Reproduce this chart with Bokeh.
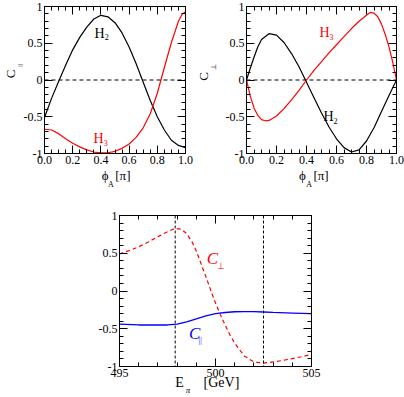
from bokeh.plotting import figure
from bokeh.models import Label, LinearAxis, FixedTicker, Span, Range1d
from bokeh.layouts import column, row
from bokeh.embed import file_html
from bokeh.resources import INLINE

# ---------------- data ----------------
# panel 1: C_parallel vs phi_A [pi]
phi_1 = [0.0, 0.05, 0.1, 0.15, 0.2, 0.25, 0.3, 0.35, 0.4, 0.45, 0.5,
         0.55, 0.6, 0.65, 0.7, 0.75, 0.8, 0.85, 0.9, 0.95, 1.0]
cpar_H2 = [-0.51, -0.25, -0.02, 0.20, 0.41, 0.58, 0.72, 0.83, 0.88, 0.86, 0.78,
           0.64, 0.45, 0.22, -0.03, -0.28, -0.50, -0.68, -0.82, -0.89, -0.92]
phi_1r = [0.0, 0.05, 0.1, 0.15, 0.2, 0.25, 0.3, 0.35, 0.4, 0.45, 0.5,
          0.55, 0.6, 0.65, 0.7, 0.75, 0.8, 0.85, 0.9, 0.95, 0.975, 1.0]
cpar_H3 = [-0.67, -0.68, -0.73, -0.80, -0.86, -0.91, -0.95, -0.98, -0.99, -0.99, -0.97,
           -0.93, -0.87, -0.78, -0.65, -0.46, -0.18, 0.17, 0.51, 0.80, 0.89, 0.93]

# panel 2: C_perp vs phi_A [pi]
phi_2b = [0.0, 0.025, 0.05, 0.075, 0.1, 0.15, 0.2, 0.25, 0.3, 0.35, 0.4, 0.45, 0.5,
          0.55, 0.6, 0.65, 0.7, 0.75, 0.8, 0.85, 0.9, 0.95, 1.0]
cperp_H2 = [0.0, 0.16, 0.31, 0.45, 0.55, 0.63, 0.61, 0.51, 0.36, 0.18, -0.03, -0.24, -0.45,
            -0.64, -0.80, -0.92, -0.98, -0.95, -0.83, -0.65, -0.43, -0.21, 0.0]
phi_2r = [0.0, 0.025, 0.05, 0.075, 0.1, 0.125, 0.15, 0.2, 0.25, 0.3, 0.35, 0.4, 0.45, 0.5,
          0.55, 0.6, 0.65, 0.7, 0.75, 0.8, 0.825, 0.85, 0.875, 0.9, 0.925, 0.95, 0.975, 1.0]
cperp_H3 = [0.0, -0.22, -0.38, -0.48, -0.54, -0.555, -0.55, -0.49, -0.39, -0.27, -0.14, 0.0, 0.13, 0.25,
            0.37, 0.48, 0.59, 0.70, 0.80, 0.88, 0.92, 0.91, 0.86, 0.76, 0.62, 0.45, 0.24, 0.0]

# panel 3: C vs E_pi [GeV]
E_perp = [495.0, 495.5, 496.0, 496.5, 497.0, 497.5, 497.9, 498.2, 498.5, 498.8, 499.0, 499.25,
          499.5, 499.75, 500.0, 500.25, 500.5, 500.75, 501.0, 501.5, 502.0, 502.5, 503.0,
          503.5, 504.0, 504.5, 505.0]
C_perp_E = [0.49, 0.535, 0.585, 0.65, 0.72, 0.785, 0.83, 0.82, 0.76, 0.64, 0.53, 0.36,
            0.19, 0.01, -0.16, -0.31, -0.45, -0.58, -0.69, -0.86, -0.94, -0.955, -0.94,
            -0.92, -0.895, -0.87, -0.84]
E_par = [495.0, 496.0, 497.0, 497.5, 498.0, 498.5, 499.0, 499.5, 500.0, 500.5, 501.0,
         501.5, 502.0, 502.5, 503.0, 504.0, 505.0]
C_par_E = [-0.44, -0.45, -0.45, -0.45, -0.44, -0.41, -0.37, -0.33, -0.30, -0.285, -0.275,
           -0.272, -0.273, -0.278, -0.283, -0.292, -0.30]
E_marks = [497.9, 502.5]

# ticks
phi_ticks = [0.0, 0.2, 0.4, 0.6, 0.8, 1.0]
phi_tick_labels = ["0.0", "0.2", "0.4", "0.6", "0.8", "1.0"]
c_ticks = [-1.0, -0.5, 0.0, 0.5, 1.0]
c_tick_labels = ["-1", "-0.5", "0", "0.5", "1"]
E_ticks = [495, 500, 505]
E_tick_labels = ["495", "500", "505"]

SERIF = "Liberation Serif"
RED = "#ff0000"
BLUE = "#0000ff"
PHI = "\u03d5"


def minors(a, b, step, majors):
    n = int(round((b - a) / step))
    vals = [round(a + i * step, 6) for i in range(n + 1)]
    return [v for v in vals if all(abs(v - m) > 1e-9 for m in majors)]


def make_fig(w, h, xr, yr, xt, xlab, xminor, yt, ylab, yminor, bl, br, bt, bb):
    p = figure(width=w, height=h, x_range=Range1d(*xr), y_range=Range1d(*yr),
               output_backend="svg", toolbar_location=None,
               x_axis_location=None, y_axis_location=None,
               min_border_left=bl, min_border_right=br,
               min_border_top=bt, min_border_bottom=bb)
    p.xgrid.visible = False
    p.ygrid.visible = False
    p.outline_line_color = "black"
    p.outline_line_width = 1
    p.background_fill_color = "white"
    p.border_fill_color = "white"
    for loc, ticks, labs, mn, show in [("below", xt, xlab, xminor, True),
                                       ("above", xt, xlab, xminor, False),
                                       ("left", yt, ylab, yminor, True),
                                       ("right", yt, ylab, yminor, False)]:
        ax = LinearAxis(ticker=FixedTicker(ticks=ticks, minor_ticks=mn))
        ax.axis_line_color = "black"
        ax.axis_line_width = 1
        ax.major_tick_in = 8
        ax.major_tick_out = 0
        ax.minor_tick_in = 4
        ax.minor_tick_out = 0
        ax.major_tick_line_color = "black"
        ax.minor_tick_line_color = "black"
        ax.major_label_text_font = SERIF
        if show:
            ax.major_label_overrides = {t: s for t, s in zip(ticks, labs)}
            ax.major_label_text_font_size = "12px"
            ax.major_label_standoff = 2
            ax.major_label_text_color = "black"
        else:
            ax.major_label_text_font_size = "0px"
            ax.major_label_standoff = 0
            ax.major_label_text_alpha = 0
        p.add_layout(ax, loc)
    return p


def label_axis(p, side, positions, texts, size, standoff, italic=False,
               orient="horizontal", color="black"):
    """An axis without line/ticks that only carries text pieces (axis titles)."""
    ax = LinearAxis(ticker=FixedTicker(ticks=positions, minor_ticks=[]))
    ax.major_label_overrides = {t: s for t, s in zip(positions, texts)}
    ax.axis_line_color = None
    ax.major_tick_line_color = None
    ax.minor_tick_line_color = None
    ax.major_tick_in = 0
    ax.major_tick_out = 0
    ax.minor_tick_in = 0
    ax.minor_tick_out = 0
    ax.major_label_text_font = SERIF
    ax.major_label_text_font_size = f"{size}px"
    ax.major_label_text_font_style = "italic" if italic else "normal"
    ax.major_label_text_color = color
    ax.major_label_standoff = standoff
    ax.major_label_orientation = orient
    p.add_layout(ax, side)


def txt(p, x, y, text, color="black", size=13, dx=0, dy=0, italic=False,
        align="center", baseline="middle"):
    p.add_layout(Label(x=x, y=y, text=text, x_offset=dx, y_offset=dy,
                       text_color=color, text_font=SERIF,
                       text_font_size=f"{size}px",
                       text_font_style="italic" if italic else "normal",
                       text_align=align, text_baseline=baseline))


phi_minor = minors(0.0, 1.0, 0.05, phi_ticks)
c_minor = minors(-1.0, 1.0, 0.1, c_ticks)
E_minor = minors(495.0, 505.0, 1.0, E_ticks)

# ---------------- panel 1 ----------------
p1 = make_fig(193, 192, (0, 1), (-1, 1), phi_ticks, phi_tick_labels, phi_minor,
              c_ticks, c_tick_labels, c_minor, 34, 8, 6, 39)
p1.add_layout(Span(location=0, dimension="width", line_color="black",
                   line_dash="4 3", line_width=1))
p1.line(phi_1, cpar_H2, line_color="black", line_width=1.2)
p1.line(phi_1r, cpar_H3, line_color=RED, line_width=1.2)
txt(p1, 0.391, 0.633, "H", "black", 14)
txt(p1, 0.391, 0.633, "2", "black", 8, dx=5, dy=-4, align="left")
txt(p1, 0.384, -0.796, "H", RED, 14)
txt(p1, 0.384, -0.796, "3", RED, 8, dx=5, dy=-4, align="left")
# axis titles: y "C||", x "phi_A [pi]"
label_axis(p1, "left", [0.20], ["||"], 7, -4, orient="parallel")
label_axis(p1, "left", [0.084], ["C"], 13, -5, orient="parallel")
label_axis(p1, "below", [0.430, 0.556], [PHI, "[\u03c0]"], 13, 1)
label_axis(p1, "below", [0.470], ["A"], 8, -6)

# ---------------- panel 2 ----------------
p2 = make_fig(211, 192, (0, 1), (-1, 1), phi_ticks, phi_tick_labels, phi_minor,
              c_ticks, c_tick_labels, c_minor, 53, 8, 6, 39)
p2.add_layout(Span(location=0, dimension="width", line_color="black",
                   line_dash="4 3", line_width=1))
p2.line(phi_2b, cperp_H2, line_color="black", line_width=1.2)
p2.line(phi_2r, cperp_H3, line_color=RED, line_width=1.2)
txt(p2, 0.52, 0.646, "H", RED, 14)
txt(p2, 0.52, 0.646, "3", RED, 8, dx=5, dy=-4, align="left")
txt(p2, 0.547, -0.497, "H", "black", 14)
txt(p2, 0.547, -0.497, "2", "black", 8, dx=5, dy=-4, align="left")
label_axis(p2, "left", [0.174], ["\u22a5"], 7, 4, orient="parallel")
label_axis(p2, "left", [0.048], ["C"], 13, -4, orient="parallel")
label_axis(p2, "below", [0.373, 0.497], [PHI, "[\u03c0]"], 13, 1)
label_axis(p2, "below", [0.418], ["A"], 8, -6)

# ---------------- panel 3 ----------------
p3 = make_fig(321, 205, (495, 505), (-1, 1), E_ticks, E_tick_labels, E_minor,
              c_ticks, c_tick_labels, c_minor, 119, 10, 23, 31)
for loc in E_marks:
    p3.add_layout(Span(location=loc, dimension="height", line_color="black",
                       line_dash="3 2", line_width=1))
p3.line(E_par, C_par_E, line_color=BLUE, line_width=1.3)
p3.line(E_perp, C_perp_E, line_color=RED, line_width=1.2, line_dash="4 3")
txt(p3, 499.84, 0.424, "C", RED, 17, italic=True)
txt(p3, 499.84, 0.424, "\u22a5", RED, 9, dx=5, dy=-7, align="left")
txt(p3, 498.91, -0.563, "C", BLUE, 17, italic=True)
txt(p3, 498.91, -0.563, "||", BLUE, 8, dx=4, dy=-7, align="left")
label_axis(p3, "below", [498.125, 500.31], ["E", "[GeV]"], 14, -5)
label_axis(p3, "below", [498.57], ["\u03c0"], 9, -8, italic=True)

layout = column(row(p1, p2), p3)
open("out.html", "w").write(file_html(layout, INLINE))
